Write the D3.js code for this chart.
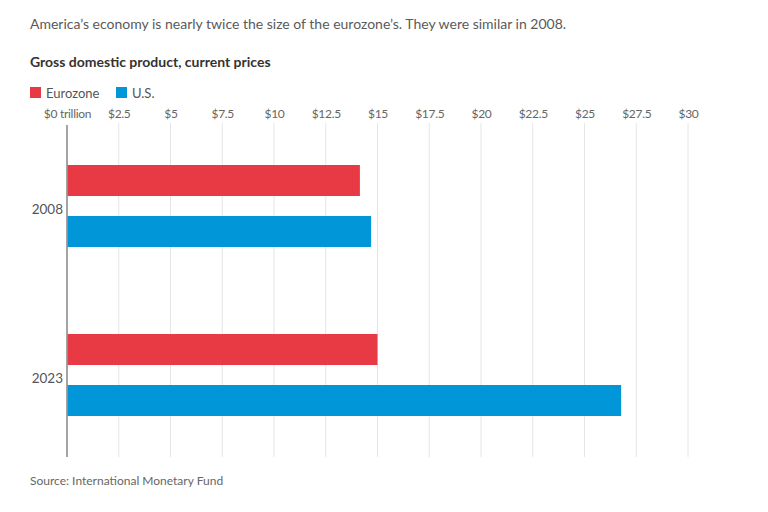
<!DOCTYPE html>
<html><head><meta charset="utf-8">
<script src="https://cdn.jsdelivr.net/npm/d3@7"></script>
<style>body{margin:0;background:#fff;} text{font-family:Lato,"Noto Sans",sans-serif;}</style>
</head><body>
<svg id="c" width="768" height="512"></svg>
<script>
const years = ["2008", "2023"];
const seriesNames = ["Eurozone", "U.S."];
const eurozone = [14.15, 15.0];
const us = [14.69, 26.77];
const tickValues = [0, 2.5, 5, 7.5, 10, 12.5, 15, 17.5, 20, 22.5, 25, 27.5, 30];
const tickLabels = ["$0 trillion", "$2.5", "$5", "$7.5", "$10", "$12.5", "$15", "$17.5", "$20", "$22.5", "$25", "$27.5", "$30"];
const colors = ["#e83a44", "#0096d8"];

const svg = d3.select("#c");
const x = d3.scaleLinear().domain([0, 30]).range([67, 688]);
const yPos = d3.scalePoint().domain(years).range([206, 375]);
const ySub = d3.scaleBand().domain(seriesNames).range([-41, 41]).paddingInner(20 / 51).paddingOuter(0);

svg.append("text").attr("x", 30).attr("y", 29).attr("font-size", 14).attr("fill", "#5a5a5a")
  .text("America’s economy is nearly twice the size of the eurozone’s. They were similar in 2008.");
svg.append("text").attr("x", 30).attr("y", 67).attr("font-size", 14).attr("font-weight", "bold").attr("fill", "#333")
  .text("Gross domestic product, current prices");

// legend
const leg = svg.append("g");
seriesNames.forEach((n, i) => {
  const lx = i === 0 ? 30 : 116;
  leg.append("rect").attr("x", lx).attr("y", 87).attr("width", 11).attr("height", 11).attr("fill", colors[i]);
  leg.append("text").attr("x", lx + 16).attr("y", 97.5).attr("font-size", 13).attr("fill", "#555").text(n);
});

// grid and ticks
const axis = d3.axisTop(x).tickValues(tickValues).tickFormat((d, i) => tickLabels[i]).tickSize(0).tickPadding(0);
const ag = svg.append("g").attr("transform", "translate(0,118)").call(axis);
ag.select(".domain").remove();
ag.selectAll("text").attr("font-family", "'Liberation Sans Narrow','Roboto Condensed',Lato,sans-serif")
  .attr("font-size", 12).attr("fill", "#666").attr("letter-spacing", "-0.3");

svg.append("g").selectAll("line").data(tickValues.slice(1)).join("line")
  .attr("x1", d => x(d)).attr("x2", d => x(d)).attr("y1", 123).attr("y2", 457)
  .attr("stroke", "#e6e6e6").attr("stroke-width", 1);
svg.append("line").attr("x1", x(0)).attr("x2", x(0)).attr("y1", 125).attr("y2", 457)
  .attr("stroke", "#666").attr("stroke-width", 1.2);

// bars
const data = years.map((yr, i) => ({year: yr, vals: [eurozone[i], us[i]]}));
const g = svg.append("g");
data.forEach(d => {
  d.vals.forEach((v, j) => {
    g.append("rect")
      .attr("x", x(0) + 0.6)
      .attr("y", yPos(d.year) + ySub(seriesNames[j]))
      .attr("width", x(v) - x(0) - 0.6)
      .attr("height", ySub.bandwidth())
      .attr("fill", colors[j]);
  });
  svg.append("text").attr("x", 63).attr("y", yPos(d.year) + 8)
    .attr("text-anchor", "end").attr("font-size", 13.5).attr("fill", "#555").text(d.year);
});

svg.append("text").attr("x", 30).attr("y", 485).attr("font-size", 12).attr("fill", "#666")
  .text("Source: International Monetary Fund");
</script>
</body></html>
